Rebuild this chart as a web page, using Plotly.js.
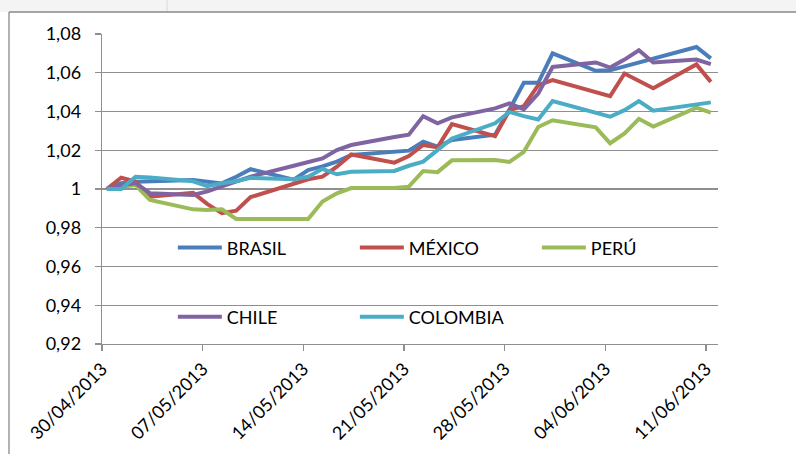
<!DOCTYPE html>
<html>
<head>
<meta charset="utf-8">
<script src="https://cdn.plot.ly/plotly-3.0.1.min.js"></script>
<style>html,body{margin:0;padding:0;background:#fff;}#chart{width:796px;height:454px;}</style>
</head>
<body>
<div id="chart"></div>
<script>
const dates = ['2013-04-30','2013-05-01','2013-05-02','2013-05-03','2013-05-06','2013-05-07','2013-05-08','2013-05-09','2013-05-10','2013-05-13','2013-05-14','2013-05-15','2013-05-16','2013-05-17','2013-05-20','2013-05-21','2013-05-22','2013-05-23','2013-05-24','2013-05-27','2013-05-28','2013-05-29','2013-05-30','2013-05-31','2013-06-03','2013-06-04','2013-06-05','2013-06-06','2013-06-07','2013-06-10','2013-06-11'];

const brasil   = [1.000,1.003,1.0038,1.004,1.0046,1.0038,1.0029,1.0063,1.0102,1.0048,1.0098,1.0117,1.0141,1.0175,1.0190,1.0198,1.0244,1.0218,1.0253,1.0280,1.0410,1.0548,1.0548,1.0700,1.0610,1.0613,1.0633,1.0653,1.0673,1.0733,1.0674];
const mexico   = [1.000,1.0058,1.0038,0.9960,0.9980,0.9922,0.9875,0.9888,0.9958,1.0024,1.0050,1.0064,1.0115,1.0178,1.0136,1.0170,1.0227,1.0215,1.0335,1.0273,1.0407,1.0428,1.0536,1.0562,1.0503,1.0479,1.0596,1.0558,1.0520,1.0643,1.0553];
const peru     = [1.000,1.001,1.002,0.9943,0.9895,0.9892,0.9895,0.9845,0.9845,0.9840,0.9845,0.9935,0.9978,1.0005,1.0005,1.0012,1.0093,1.0087,1.0148,1.0150,1.0140,1.0192,1.0320,1.0355,1.0318,1.0236,1.0287,1.0362,1.0322,1.0420,1.0394];
const chile    = [1.000,1.002,1.003,0.9978,0.9969,0.9988,1.0014,1.0040,1.0064,1.0120,1.0139,1.0158,1.0201,1.0227,1.0268,1.0280,1.0376,1.0339,1.0370,1.0416,1.0442,1.0411,1.0493,1.0630,1.0653,1.0627,1.0668,1.0716,1.0653,1.0668,1.0644];
const colombia = [1.000,1.000,1.0063,1.0060,1.0040,1.0015,1.0029,1.0040,1.0058,1.0050,1.0063,1.0104,1.0076,1.0089,1.0093,1.0120,1.0141,1.0201,1.0261,1.0339,1.0398,1.0376,1.0359,1.0454,1.0390,1.0373,1.0407,1.0454,1.0404,1.0435,1.0447];

const seriesNames = ['BRASIL','MÉXICO','PERÚ','CHILE','COLOMBIA'];
const seriesColors = ['#4A7EBB','#C0504D','#9BBB59','#8064A2','#4BACC6'];
const tickLabels = ['30/04/2013','07/05/2013','14/05/2013','21/05/2013','28/05/2013','04/06/2013','11/06/2013'];
const tickDates = ['2013-04-30','2013-05-07','2013-05-14','2013-05-21','2013-05-28','2013-06-04','2013-06-11'];

function shiftH(d, h){
  const t = new Date(d + 'T00:00:00Z');
  t.setUTCMinutes(t.getUTCMinutes() + Math.round(h*60));
  return t.toISOString().slice(0,19).replace('T',' ');
}

const allSeries = [brasil, mexico, peru, chile, colombia];
const traces = allSeries.map((ys, i) => ({
  type: 'scatter', mode: 'lines', x: dates, y: ys,
  name: seriesNames[i],
  line: {color: seriesColors[i], width: 4},
  legend: i < 3 ? 'legend' : 'legend2'
}));

const FONT = 'Lato, "Open Sans", sans-serif';
const grid = '#8f8f8f';
const layout = {
  width: 796, height: 454,
  margin: {l: 102, r: 78, t: 34, b: 110},
  paper_bgcolor: '#ffffff', plot_bgcolor: '#ffffff',
  font: {family: FONT, size: 18, color: '#000'},
  separators: ',.',
  xaxis: {
    type: 'date',
    range: [shiftH(tickDates[0], -8), shiftH(dates[dates.length-1], 12)],
    tickmode: 'array',
    tickvals: tickDates.map(d => shiftH(d, -8)),
    ticktext: tickLabels,
    tickangle: -45,
    showgrid: false, zeroline: false,
    showline: true, linecolor: grid, linewidth: 1.3,
    ticks: 'outside', ticklen: 6, tickcolor: grid, tickwidth: 1.3,
    tickfont: {family: FONT, size: 18, color: '#000'}
  },
  yaxis: {
    range: [0.92, 1.08], dtick: 0.02, tick0: 0.92,
    showgrid: true, gridcolor: grid, gridwidth: 1.3,
    zeroline: false,
    showline: true, linecolor: grid, linewidth: 1.3,
    ticks: 'outside', ticklen: 6, tickcolor: grid, tickwidth: 1.3,
    ticklabelstandoff: 10,
    tickfont: {family: FONT, size: 18, color: '#000'}
  },
  legend: {
    orientation: 'h', x: 0.115, xanchor: 'left', y: 0.31, yanchor: 'middle',
    bgcolor: 'rgba(0,0,0,0)', entrywidth: 123, itemwidth: 44,
    font: {family: FONT, size: 18, color: '#000'}
  },
  legend2: {
    orientation: 'h', x: 0.115, xanchor: 'left', y: 0.087, yanchor: 'middle',
    bgcolor: 'rgba(0,0,0,0)', entrywidth: 123, itemwidth: 44,
    font: {family: FONT, size: 18, color: '#000'}
  },
  shapes: [
    {type: 'rect', xref: 'paper', yref: 'paper', x0: -0.3, x1: 1.3, y0: 1.071, y1: 1.2,
     fillcolor: '#f4f4f4', line: {width: 0}, layer: 'below'},
    {type: 'line', xref: 'paper', yref: 'paper', x0: 0.1055, x1: 0.1055, y0: 1.071, y1: 1.2,
     line: {color: '#d8d8d8', width: 1}},
    {type: 'line', xref: 'paper', yref: 'paper', x0: -0.151, x1: 1.3, y0: 1.071, y1: 1.071,
     line: {color: '#8a8a8a', width: 1.3}},
    {type: 'line', xref: 'paper', yref: 'paper', x0: -0.151, x1: -0.151, y0: 1.071, y1: -0.5,
     line: {color: '#8a8a8a', width: 1.3}}
  ]
};

Plotly.newPlot('chart', traces, layout, {displayModeBar: false, staticPlot: true});
</script>
</body>
</html>
